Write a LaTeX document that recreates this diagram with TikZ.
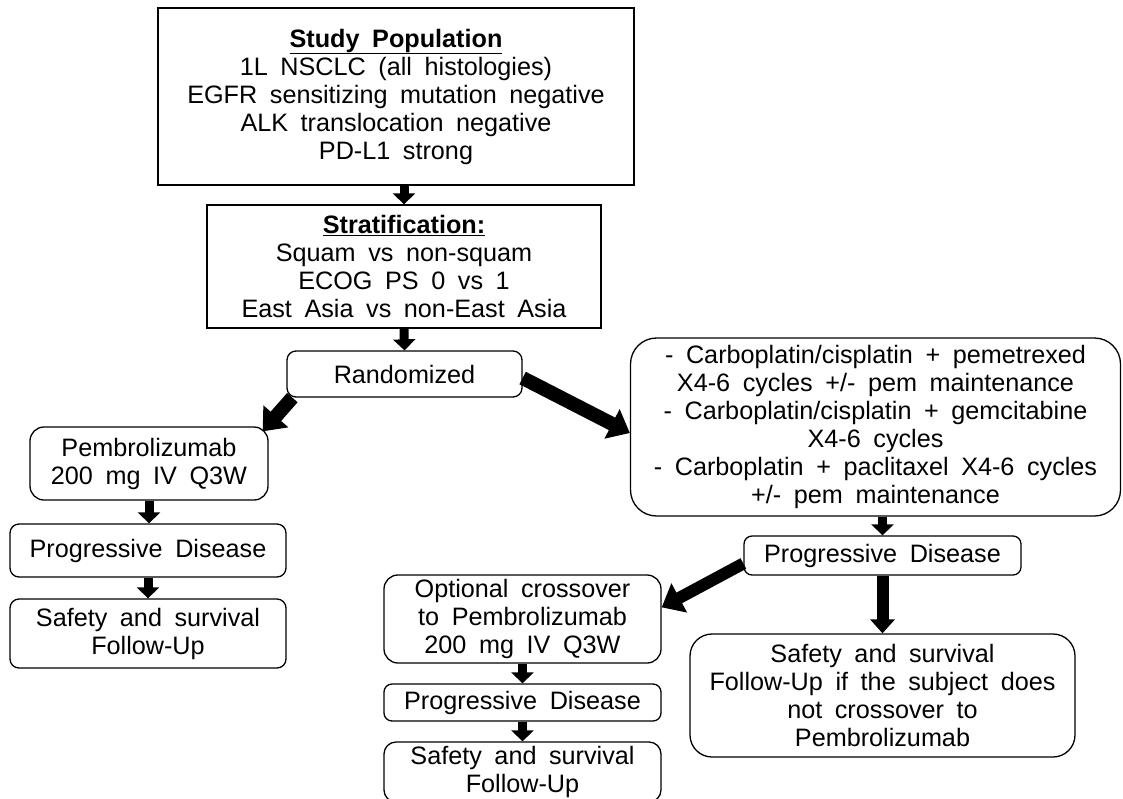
\documentclass[tikz,border=0pt]{standalone}
\usepackage{fontspec}
\setmainfont{Liberation Sans}[WordSpace=1.8]
\usetikzlibrary{arrows.meta,calc}
\begin{document}
\begin{tikzpicture}[x=1pt,y=-1pt,
  box/.style={draw=black, line width=1.3pt, fill=white, align=center,
    inner sep=0pt, font=\fontsize{25.2}{28}\selectfont},
  sqbox/.style={box},
  rbox/.style={box, rounded corners=#1},
  varrow/.style={line width=9pt, -{Triangle[length=11pt,width=22pt]}},
  darrow/.style={line width=14pt, -{Triangle[length=20pt,width=32pt]}},
  marrow/.style={line width=12pt, -{Triangle[length=14pt,width=24pt]}}]
\useasboundingbox (0,0) rectangle (1123,798);
\clip (0,0) rectangle (1123,798);

% screening and stratification
\node[sqbox, minimum width=476pt, minimum height=177pt] (pop) at (396,96.5)
  {\underline{\textbf{Study Population}}\\1L NSCLC (all histologies)\\
   EGFR sensitizing mutation negative\\ALK translocation negative\\PD-L1 strong};
\node[sqbox, minimum width=394pt, minimum height=123pt] (strat) at (404,266.5)
  {\underline{\textbf{Stratification:}}\\Squam vs non-squam\\ECOG PS 0 vs 1\\
   East Asia vs non-East Asia};
\node[rbox=9pt, minimum width=235pt, minimum height=46pt] (rand) at (404.5,374)
  {Randomized};

% pembrolizumab arm
\node[rbox=14pt, minimum width=238pt, minimum height=73pt] (pembro) at (149,463.5)
  {Pembrolizumab\\200 mg IV Q3W};
\node[rbox=9pt, minimum width=276pt, minimum height=53pt] (pdA) at (148,550.5)
  {Progressive Disease};
\node[rbox=9pt, minimum width=276pt, minimum height=69pt] (fuA) at (148,633.5)
  {Safety and survival\\Follow-Up};

% chemotherapy arm
\node[rbox=26pt, minimum width=490pt, minimum height=178pt] (chemo) at (875.5,427)
  {- Carboplatin/cisplatin + pemetrexed\\X4-6 cycles +/- pem maintenance\\
   - Carboplatin/cisplatin + gemcitabine\\X4-6 cycles\\
   - Carboplatin + paclitaxel X4-6 cycles\\+/- pem maintenance};
\node[rbox=8pt, minimum width=277pt, minimum height=39pt] (pdB) at (882.5,555.5)
  {Progressive Disease};
\node[rbox=14pt, minimum width=277pt, minimum height=88pt] (cross) at (522.5,619)
  {Optional crossover\\to Pembrolizumab\\200 mg IV Q3W};
\node[rbox=8pt, minimum width=277pt, minimum height=37pt] (pdC) at (522.5,702.5)
  {Progressive Disease};
\node[rbox=12pt, minimum width=277pt, minimum height=60pt] (fuC) at (522.5,772)
  {Safety and survival\\Follow-Up};
\node[rbox=22pt, minimum width=385pt, minimum height=123pt] (fuB) at (882.5,695.5)
  {Safety and survival\\Follow-Up if the subject does\\not crossover to\\Pembrolizumab};

% connectors
\draw[varrow] (strat.north |- pop.south) -- (strat.north);
\draw[varrow] (strat.south) -- (rand.north);
\draw[darrow] ($(rand.south west)+(6,0)$) -- ($(pembro.north east)+(-6,5)$);
\draw[darrow] ($(rand.east)+(0,4)$) -- ($(chemo.west)+(0,6)$);
\draw[varrow] (pembro.south) -- (pdA.north -| pembro.south);
\draw[varrow] (pdA.south) -- (fuA.north);
\draw[varrow] (pdB.north |- chemo.south) -- (pdB.north);
\draw[darrow, line width=12pt] ($(pdB.west)+(0,8)$) -- ($(cross.north east)+(0,33)$);
\draw[marrow] (pdB.south) -- (fuB.north);
\draw[varrow] (cross.south) -- (pdC.north);
\draw[varrow] (pdC.south) -- (fuC.north);
\end{tikzpicture}
\end{document}
